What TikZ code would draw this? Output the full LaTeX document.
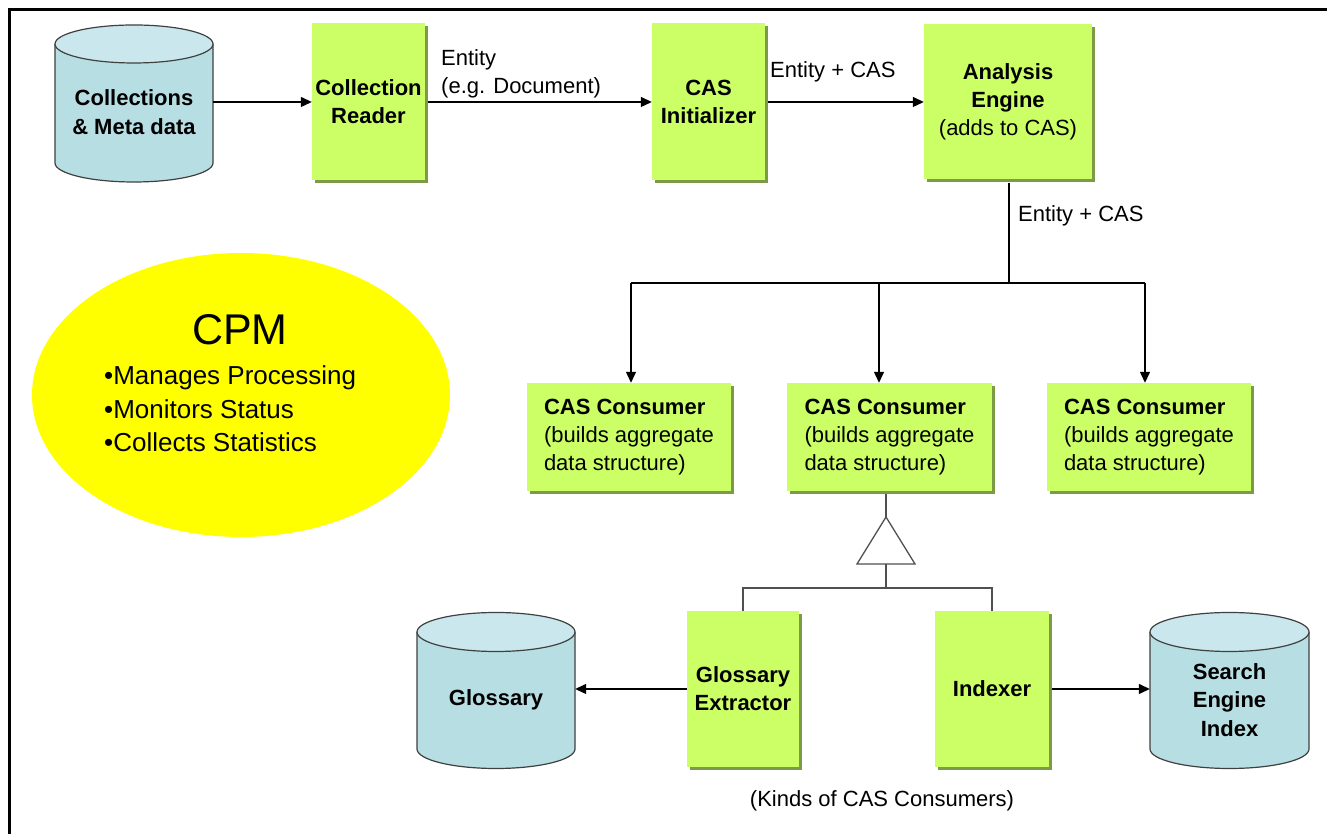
\documentclass[tikz,border=0pt]{standalone}
\usepackage{fontspec}
\setmainfont{Liberation Sans}
\usetikzlibrary{arrows.meta,shapes.geometric,shadows}
\definecolor{boxgreen}{HTML}{CCFF66}
\definecolor{shadowgreen}{HTML}{7C9B46}
\definecolor{cylbodyc}{HTML}{B7DEE3}
\definecolor{cyltopc}{HTML}{C9E7EC}
\definecolor{cyllinec}{HTML}{404040}
\definecolor{treegray}{HTML}{505050}
\definecolor{cpmyellow}{RGB}{255,255,0}
\newcommand\cylshape[5]{% cx, rx, ytop, ybot, ry
  \fill[cylbodyc] ({#1-#2},#3) -- ({#1-#2},#4) arc[start angle=180,end angle=360,x radius=#2,y radius=#5] -- ({#1+#2},#3) -- cycle;
  \draw[cyllinec,line width=1.2pt] ({#1-#2},#3) -- ({#1-#2},#4) arc[start angle=180,end angle=360,x radius=#2,y radius=#5] -- ({#1+#2},#3);
  \filldraw[fill=cyltopc,draw=cyllinec,line width=1.2pt] (#1,#3) ellipse[x radius=#2, y radius=#5];
}
\tikzset{
  gbox/.style={rectangle, fill=boxgreen, draw=none, inner sep=0pt, align=center,
    font=\fontsize{22}{28}\selectfont\bfseries,
    general shadow={fill=shadowgreen, shadow xshift=3pt, shadow yshift=-3pt}},
  cbox/.style={gbox, align=left, font=\fontsize{22}{28}\selectfont},
  cyltext/.style={inner sep=0pt, align=center, font=\fontsize{22}{28.5}\selectfont\bfseries},
  lbl/.style={inner sep=0pt, align=left, font=\fontsize{22}{28}\selectfont},
  arr/.style={-{Triangle[length=11pt,width=10pt]}, line width=1.3pt, black},
  conn/.style={line width=1.3pt, black},
  treeline/.style={line width=1.3pt, treegray},
}
\begin{document}
\begin{tikzpicture}[x=1pt,y=1pt]
\useasboundingbox (0,0) rectangle (1327,834);
\fill[white] (0,0) rectangle (1327,834);
% frame
\draw[line width=3pt] (9.5,0) -- (9.5,824.5) -- (1327,824.5);

% CPM ellipse
\node[ellipse, fill=cpmyellow, inner sep=0pt, minimum width=418, minimum height=284] (cpm) at (241,439) {};
\node[inner sep=0pt, font=\fontsize{43}{50}\selectfont] (cpmtitle) at (240,504) {CPM};
\node[inner sep=0pt, anchor=west, align=left, font=\fontsize{26}{33.5}\selectfont] (cpmlist) at (104,425) {•Manages Processing\\•Monitors Status\\•Collects Statistics};

% cylinders
\cylshape{134}{79}{790}{671}{19}
\cylshape{496}{79}{202}{85}{19.5}
\cylshape{1229.5}{79.5}{202}{85}{19.5}
\node[cyltext, minimum width=158, minimum height=100] (coll) at (134,722) {Collections\\\&~Meta data};
\node[cyltext, minimum width=158, minimum height=100] (gloss) at (496,134) {Glossary};
\node[cyltext, minimum width=159, minimum height=100] (search) at (1229.5,134) {Search\\Engine\\Index};

% top row boxes
\node[gbox, minimum width=113, minimum height=157] (reader) at (368.5,732) {Collection\\Reader};
\node[gbox, minimum width=113, minimum height=157] (init) at (708.5,732) {CAS\\Initializer};
\node[gbox, minimum width=168, minimum height=155] (ae) at (1008,732) {Analysis\\Engine\\\mdseries(adds to CAS)};

% labels
\node[lbl, anchor=west] (lab1) at (441,760) {Entity\\(e.g. Document)};
\node[lbl, anchor=west] (lab2) at (770,762) {Entity + CAS};
\node[lbl, anchor=west] (lab3) at (1018,618) {Entity + CAS};

% consumers
\node[cbox, minimum width=204, minimum height=108] (c1) at (629,397) {\textbf{CAS Consumer}\\(builds aggregate\\data structure)};
\node[cbox, minimum width=205, minimum height=108] (c2) at (889.5,397) {\textbf{CAS Consumer}\\(builds aggregate\\data structure)};
\node[cbox, minimum width=204, minimum height=108] (c3) at (1149,397) {\textbf{CAS Consumer}\\(builds aggregate\\data structure)};

% bottom boxes
\node[gbox, minimum width=112, minimum height=156] (gext) at (743,145) {Glossary\\Extractor};
\node[gbox, minimum width=114, minimum height=156] (idx) at (992,145) {Indexer};
\node[lbl] (kinds) at (882,33) {(Kinds of CAS Consumers)};

% top connectors
\draw[arr] (coll.east |- reader.west) -- (reader.west);
\draw[arr] ([xshift=3pt]reader.east) -- (init.west);
\draw[arr] ([xshift=3pt]init.east) -- (init.east -| ae.west);

% distribution
\coordinate (split) at (1009,551);
\coordinate (b1) at (631,551);
\coordinate (b2) at (879,551);
\coordinate (b3) at (1145,551);
\draw[conn] ([yshift=-3pt]ae.south -| split) -- (split);
\draw[conn] (b1) -- (b3);
\draw[arr] (b1) -- (b1 |- c1.north);
\draw[arr] (b2) -- (b2 |- c2.north);
\draw[arr] (b3) -- (b3 |- c3.north);

% inheritance
\coordinate (apex) at (886,317);
\coordinate (tbase) at (886,270);
\coordinate (tree) at (886,246);
\draw[treeline] ([yshift=-3pt]c2.south -| apex) -- (apex);
\draw[treeline, fill=white] (apex) -- (857,270) -- (915,270) -- cycle;
\draw[treeline] (tbase) -- (tree);
\draw[treeline] (gext.north) |- (tree) -| (idx.north);

% bottom connectors
\draw[arr] (gext.west) -- (gext.west -| gloss.east);
\draw[arr] ([xshift=3pt]idx.east) -- (idx.east -| search.west);
\end{tikzpicture}
\end{document}
